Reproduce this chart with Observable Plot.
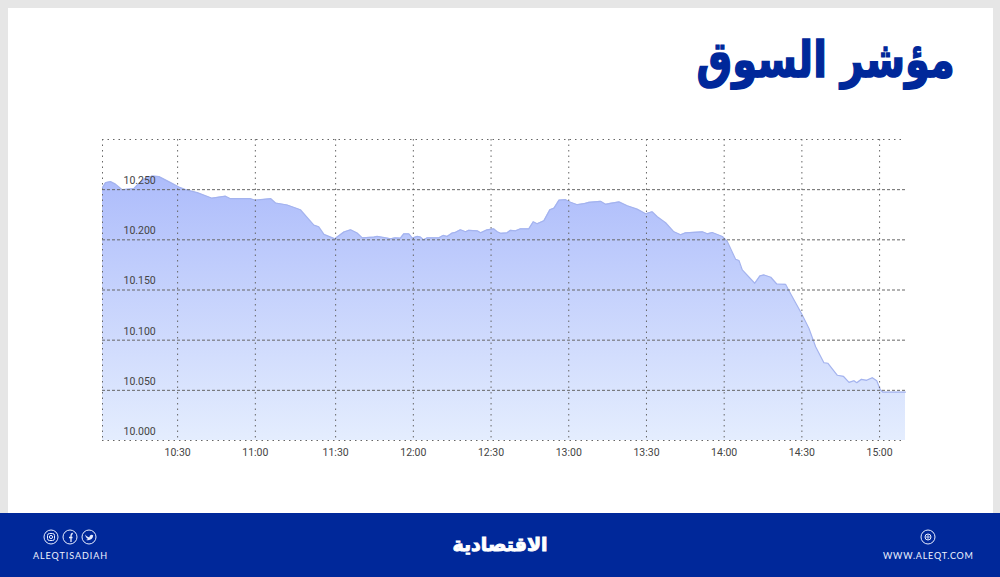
<!DOCTYPE html>
<html lang="ar">
<head>
<meta charset="utf-8">
<script src="https://cdn.jsdelivr.net/npm/d3@7"></script>
<script src="https://cdn.jsdelivr.net/npm/@observablehq/plot@0.6"></script>
<style>
html,body{margin:0;padding:0;background:#e6e6e6;}
#page{position:relative;width:1000px;height:577px;overflow:hidden;background:#e6e6e6;font-family:Lato,"Open Sans",sans-serif;}
#panel{position:absolute;left:8px;top:8px;width:985px;height:505px;background:#fff;}
#title{position:absolute;right:45px;top:28px;margin:0;color:#00289a;font:bold 50px "DejaVu Sans",sans-serif;direction:rtl;line-height:64px;white-space:nowrap;transform:scaleX(.8);transform-origin:right center;-webkit-text-stroke:1.6px #00289a;}
#chart{position:absolute;left:0;top:120px;}
#footer{position:absolute;left:0;top:513px;width:1000px;height:64px;background:#00289a;color:#fff;}
.tag{position:absolute;top:37px;font-size:9px;letter-spacing:.95px;line-height:12px;white-space:nowrap;color:#eef2ff;}
#logo{position:absolute;left:400px;width:200px;top:15px;text-align:center;font:bold 19px "DejaVu Sans",sans-serif;line-height:32px;direction:rtl;-webkit-text-stroke:.9px #fff;}
.icons{position:absolute;left:0;top:0;}
</style>
</head>
<body>
<div id="page">
  <div id="panel"></div>
  <h1 id="title">مؤشر السوق</h1>
  <div id="chart"></div>
  <div id="footer">
    <svg class="icons" width="1000" height="64" fill="none" stroke="#e8edff" stroke-width="1">
      <circle cx="51" cy="24" r="7"/><rect x="47.5" y="20.5" width="7" height="7" rx="2"/><circle cx="51" cy="24" r="1.6"/>
      <circle cx="70" cy="24" r="7"/><path d="M71 29V23.500M69 24.500H72.500M71 23.500C71 21 71.500 20.500 72.800 20.500" stroke-width="1.3"/>
      <circle cx="89" cy="24" r="7"/><path d="M85 21.500C87 24 88.500 24.300 89.500 24.300C89.300 22 92 21 93.200 22.600C92.800 26 90 28 86 27C87 26.800 87.500 26.500 88 26C86.500 25 85.500 23.500 85 21.500Z" fill="#e8edff" stroke="none"/>
      <circle cx="928" cy="24" r="7"/><circle cx="928" cy="24" r="3"/><path d="M925.500 24H930.500M928 21.500V26.500" stroke-width=".8"/>
    </svg>
    <div class="tag" style="left:33px">ALEQTISADIAH</div>
    <div class="tag" style="left:883px;letter-spacing:.8px">WWW.ALEQT.COM</div>
    <div id="logo">الاقتصادية</div>
  </div>
</div>
<script>
// Session sample number along the category axis and the index value at it
const samples = [0,1.2,3.1,5,7.6,12.1,13.4,16,19.2,21.8,26.3,29.5,32,36.6,42.3,47.5,49.4,57,59,65,66.8,71.3,76.4,81.6,83.5,85.5,89.7,93.2,95.8,98.3,100.3,104.8,106,110,
  111.2,113,115,116.3,118.3,119.6,121.5,122.8,124,125.4,129.9,131.5,133,135,136.3,138.2,140.2,141.4,144.7,146,148.5,151,152.4,153.7,156.2,157.5,159.5,161.4,164.6,166.3,167.8,170.4,172.7,174.3,176.2,178.8,180.7,183.3,185.8,187.8,192.3,194.2,196.1,199.4,202.6,206.4,209.7,212.2,214.2,217.4,220.6,223.2,225.1,
  231.6,233.5,235.4,239.3,241.2,244.4,245.7,247,251.8,253.8,255.4,258,260.3,263.7,265.7,269.8,272.7,275.3,277,278.5,280,283.7,286,288.2,290.1,291.2,293,295,297.2,298.9,300.2,301.2,310];
const values = [10252,10257,10258,10255.5,10250,10251,10254.4,10260.5,10263.6,10263,10257,10252.7,10250,10247,10241.5,10243.5,10241,10241,10239.5,10241,10236.7,10234.7,10230,10214.6,10213,10205.4,10201,10207.8,10210,10206.8,10202,10202.7,10203.4,10201.7,
  10201,10202,10201.7,10206,10206,10201.7,10203.4,10202.7,10200,10202,10202,10204.4,10203.4,10206.8,10207.5,10210,10208,10209.5,10209,10207,10210,10211,10208,10206.5,10207,10209.5,10209,10211,10211,10218,10216,10219,10230,10231.6,10239.5,10240,10237.4,10235,10236,10237.4,10238.4,10235.4,10236.4,10237.8,10234,10230.6,10226,10228,10223,10217,10208,10205,10207,
  10208,10206,10207.3,10203.3,10198.3,10180.7,10179.4,10170,10156.7,10164,10165,10162.7,10156,10155.7,10146,10126.8,10111.8,10093.5,10085,10077.5,10077,10065,10064,10058,10059.6,10057.6,10061,10060,10062.6,10059.6,10051,10048.3,10048.3];
const tickSamples = [29,59,90,120,150,180,210,240,270,300];
const tickLabels = ["10:30","11:00","11:30","12:00","12:30","13:00","13:30","14:00","14:30","15:00"];
const yTicks = [10000,10050,10100,10150,10200,10250];
const yMin = 10000, yMax = 10300, xMax = 310;

const series = samples.map((s, i) => ({s, v: values[i]}));
const fmt = d => d3.format(",")(d).replace(",", ".");
const label = d => tickLabels[tickSamples.indexOf(d)];
const defs = () => {
  const ns = "http://www.w3.org/2000/svg";
  const el = document.createElementNS(ns, "defs");
  el.innerHTML = `<linearGradient id="areaFill" x1="0" y1="0" x2="0" y2="1">
    <stop offset="0" stop-color="#adbcfb"/><stop offset="1" stop-color="#e4edfe"/></linearGradient>`;
  return el;
};

const chart = Plot.plot({
  width: 1000, height: 345,
  marginLeft: 102, marginRight: 95, marginTop: 19, marginBottom: 25,
  style: {background: "transparent", fontFamily: "Roboto, sans-serif", fontSize: "10.5px", color: "#444"},
  x: {domain: [0, xMax], axis: null},
  y: {domain: [yMin, yMax], axis: null},
  marks: [
    defs,
    Plot.areaY(series, {x: "s", y1: yMin, y2: "v", fill: "url(#areaFill)"}),
    Plot.lineY(series, {x: "s", y: "v", stroke: "#a4b3ee", strokeWidth: 1.2}),
    Plot.ruleX(tickSamples, {stroke: "#666", strokeWidth: 1, strokeDasharray: "1.5 4"}),
    Plot.ruleX([0], {stroke: "#666", strokeWidth: 1, strokeDasharray: "1.5 4"}),
    Plot.ruleY(yTicks.slice(1), {stroke: "#666", strokeWidth: 1, strokeDasharray: "3 2"}),
    Plot.ruleY([yMin, yMax], {stroke: "#666", strokeWidth: 1, strokeDasharray: "1.5 4"}),
    Plot.axisX({ticks: tickSamples, tickSize: 0, tickPadding: 8, tickFormat: label, label: null, fill: "#444"}),
    Plot.text(yTicks, {y: d => d, text: fmt, frameAnchor: "left", dx: 21, dy: -9, textAnchor: "start", fill: "#444"})
  ]
});
document.getElementById("chart").appendChild(chart);
</script>
</body>
</html>
